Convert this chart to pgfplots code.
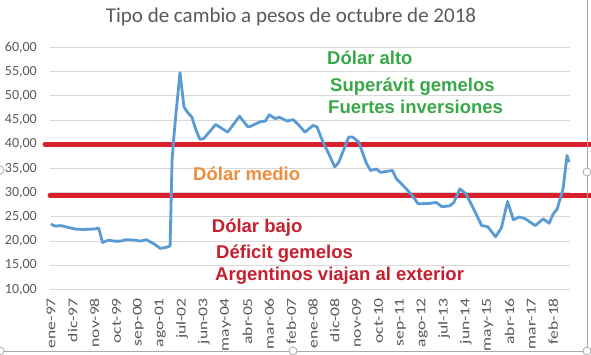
\documentclass[border=0pt]{standalone}
\usepackage{fontspec}
\setmainfont{Carlito}
\newfontfamily\annot{Liberation Sans}
\usepackage{graphicx}
\usepackage{pgfplots}
\pgfplotsset{compat=1.18}
\definecolor{lineblue}{RGB}{91,155,213}
\definecolor{redline}{RGB}{218,32,45}
\definecolor{txtgreen}{RGB}{56,168,72}
\definecolor{txtorange}{RGB}{237,140,60}
\definecolor{txtred}{RGB}{200,30,45}
\definecolor{gridc}{RGB}{217,217,217}
\definecolor{ticktxt}{RGB}{89,89,89}
\definecolor{framec}{RGB}{170,170,170}
\newcommand\lab[1]{\scalebox{1.3}[1]{#1}}
\begin{document}
\begin{tikzpicture}[x=1bp,y=1bp]
\useasboundingbox (0,0) rectangle (591,354);
\fill[white] (0,0) rectangle (591,354);
\begin{axis}[
  at={(50bp,64.5bp)}, anchor=south west,
  scale only axis, width=520bp, height=242bp,
  xmin=-0.5, xmax=261.5, ymin=10, ymax=60,
  clip=false,
  axis line style={draw=none},
  major tick length=0pt,
  ytick={10,15,...,60},
  ymajorgrids, major grid style={gridc, line width=0.9bp},
  /pgf/number format/assume math mode=true,
  yticklabel style={/pgf/number format/.cd, fixed, fixed zerofill, precision=2, use comma, 1000 sep={}, /tikz/.cd,
    font=\fontsize{14bp}{16bp}\selectfont, text=ticktxt, anchor=east, inner sep=0pt, xshift=-13bp},
  xtick={0,11,...,253},
  xticklabels={\lab{ene-97},\lab{dic-97},\lab{nov-98},\lab{oct-99},\lab{sep-00},\lab{ago-01},\lab{jul-02},\lab{jun-03},\lab{may-04},\lab{abr-05},\lab{mar-06},\lab{feb-07},\lab{ene-08},\lab{dic-08},\lab{nov-09},\lab{oct-10},\lab{sep-11},\lab{ago-12},\lab{jul-13},\lab{jun-14},\lab{may-15},\lab{abr-16},\lab{mar-17},\lab{feb-18}},
  xticklabel style={font=\fontsize{13.5bp}{15bp}\selectfont, text=ticktxt, yshift=-8.5bp, rotate=90, anchor=east, inner sep=0pt},
]
\addplot[redline, line width=5bp, line cap=round] coordinates {(-3,40) (272,40)};
\addplot[redline, line width=5bp, line cap=round] coordinates {(-0.5,29.5) (272,29.5)};
\addplot[lineblue, line width=2.8bp, line join=round] coordinates {
(0,23.5)(2,23.1)(5,23.2)(8,22.9)(12,22.5)(16,22.4)(22,22.5)(24,22.7)(26,19.7)(29,20.2)(32,20.0)(35,20.0)(38,20.3)(42,20.2)(45,20.0)(48,20.3)(52,19.4)(55,18.5)(58,18.7)(60,19.0)
(61,36.7)(62,42.0)(63,46.5)(65,54.8)(67,47.7)(69,46.5)(71,45.6)(73,43.0)(75,41.0)(77,41.2)(83,44.1)(89,42.5)(95,45.8)(99,43.7)(100,43.6)(105,44.6)(108,44.8)(110,46.1)(113,45.3)(115,45.6)(119,44.8)(122,45.1)(125,43.9)(128,42.5)(132,43.9)(134,43.6)(137,40.5)(140,38.0)(143,35.3)(145,36.3)(150,41.5)(152,41.5)(155,40.5)(159,36.0)(161,34.6)(164,34.9)(166,34.2)(169,34.4)(172,34.6)(174,32.9)(179,30.8)(182,29.4)(185,27.7)(191,27.8)(194,28.0)(197,27.1)(201,27.3)(203,28.0)(206,30.8)(209,29.8)(213,26.6)(217,23.2)(220,23.0)(224,20.9)(227,22.8)(230,28.2)(233,24.4)(236,25.0)(239,24.6)(244,23.2)(248,24.6)(251,23.7)(253,25.6)(255,26.6)(258,30.8)(260,37.7)(261,36.3)
};
\end{axis}
\node[anchor=base, text=ticktxt, font=\fontsize{21bp}{24bp}\selectfont, inner sep=0pt] at (291,331.3) {Tipo de cambio a pesos de octubre de 2018};
\begin{scope}[every node/.style={anchor=base west, inner sep=0pt, font=\annot\bfseries\fontsize{18.5bp}{20bp}\selectfont}]
\node[text=txtgreen] at (327,289.7) {Dólar alto};
\node[text=txtgreen] at (330,262.3) {Superávit gemelos};
\node[text=txtgreen] at (328,240.7) {Fuertes inversiones};
\node[text=txtorange] at (193,174) {Dólar medio};
\node[text=txtred] at (211.7,121.3) {Dólar bajo};
\node[text=txtred] at (216,95.7) {Déficit gemelos};
\node[text=txtred] at (215,73.3) {Argentinos viajan al exterior};
\end{scope}
\draw[framec, line width=0.8bp] (0,3) -- (587,3) -- (587,354);
\foreach \p in {(0,3),(293,3),(587,3),(587,182),(0,184)}
  \draw[framec, fill=white, line width=0.8bp] \p circle (4);
\end{tikzpicture}
\end{document}
